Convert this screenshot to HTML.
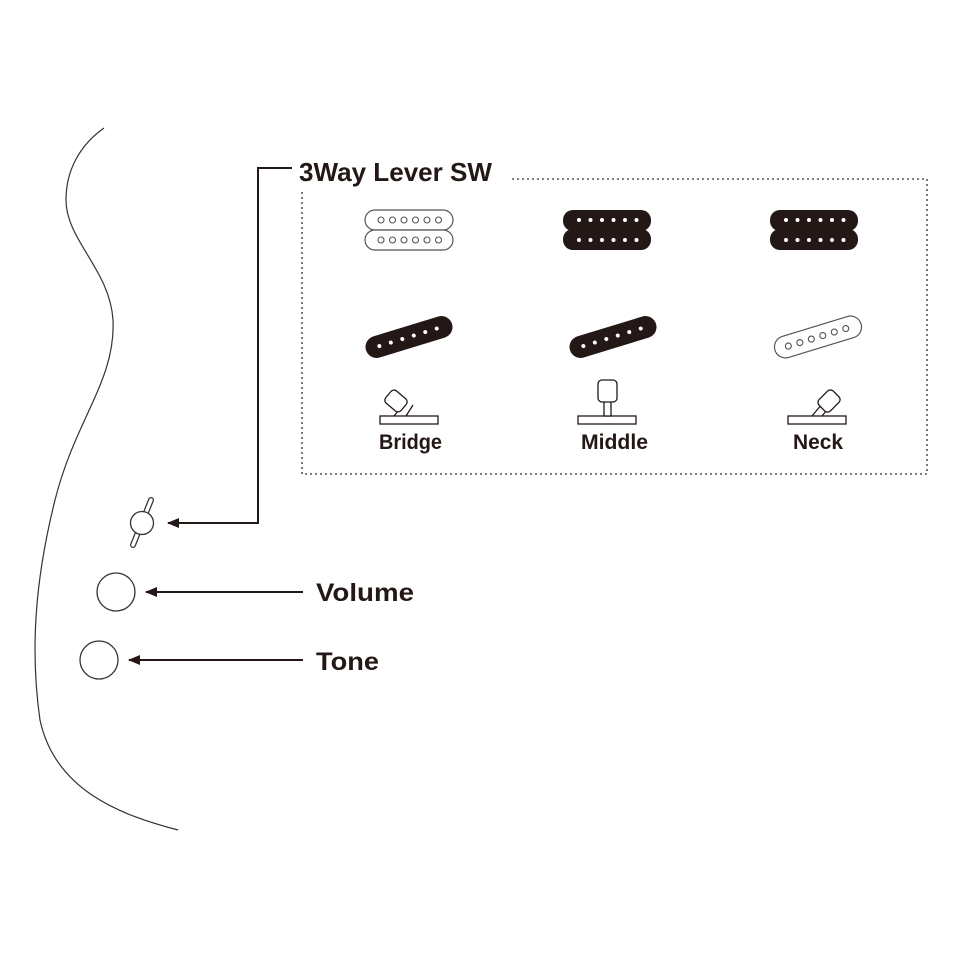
<!DOCTYPE html>
<html><head><meta charset="utf-8"><style>html,body{margin:0;padding:0;background:#fff}svg{display:block}</style></head>
<body>
<svg width="960" height="960" viewBox="0 0 960 960" xmlns="http://www.w3.org/2000/svg" font-family="Liberation Sans, sans-serif">
<defs>
<marker id="ar" markerWidth="12" markerHeight="10" refX="11" refY="5" orient="auto" markerUnits="userSpaceOnUse">
<path d="M0,0 L12,5 L0,10 Z" fill="#231815"/></marker>
<g id="hbW"><rect x="0" y="0" width="88" height="20" rx="10" fill="#fff" stroke="#555" stroke-width="1.2"/><rect x="0" y="20" width="88" height="20" rx="10" fill="#fff" stroke="#555" stroke-width="1.2"/>
<g fill="none" stroke="#555" stroke-width="1.1"><circle cx="16" cy="10" r="3"/><circle cx="27.5" cy="10" r="3"/><circle cx="39" cy="10" r="3"/><circle cx="50.5" cy="10" r="3"/><circle cx="62" cy="10" r="3"/><circle cx="73.5" cy="10" r="3"/>
<circle cx="16" cy="30" r="3"/><circle cx="27.5" cy="30" r="3"/><circle cx="39" cy="30" r="3"/><circle cx="50.5" cy="30" r="3"/><circle cx="62" cy="30" r="3"/><circle cx="73.5" cy="30" r="3"/></g></g>
<g id="hbB"><rect x="0" y="0" width="88" height="21" rx="10" fill="#231815"/><rect x="0" y="19" width="88" height="21" rx="10" fill="#231815"/>
<g fill="#fff"><circle cx="16" cy="10" r="2"/><circle cx="27.5" cy="10" r="2"/><circle cx="39" cy="10" r="2"/><circle cx="50.5" cy="10" r="2"/><circle cx="62" cy="10" r="2"/><circle cx="73.5" cy="10" r="2"/>
<circle cx="16" cy="30" r="2"/><circle cx="27.5" cy="30" r="2"/><circle cx="39" cy="30" r="2"/><circle cx="50.5" cy="30" r="2"/><circle cx="62" cy="30" r="2"/><circle cx="73.5" cy="30" r="2"/></g></g>
<g id="scB"><rect x="-45" y="-11" width="90" height="22" rx="11" fill="#231815"/>
<g fill="#fff"><circle cx="-31" cy="0" r="2"/><circle cx="-19" cy="0" r="2"/><circle cx="-7" cy="0" r="2"/><circle cx="5" cy="0" r="2"/><circle cx="17" cy="0" r="2"/><circle cx="29" cy="0" r="2"/></g></g>
<g id="scW"><rect x="-45" y="-11" width="90" height="22" rx="11" fill="#fff" stroke="#555" stroke-width="1.2"/>
<g fill="none" stroke="#555" stroke-width="1.1"><circle cx="-31" cy="0" r="3"/><circle cx="-19" cy="0" r="3"/><circle cx="-7" cy="0" r="3"/><circle cx="5" cy="0" r="3"/><circle cx="17" cy="0" r="3"/><circle cx="29" cy="0" r="3"/></g></g>
</defs>

<path d="M104,128 C80,145 66,170 66,200 C66,240 110,270 113,320 C116,380 75,420 55,500 C35,580 30,650 40,720 C55,790 120,815 178,830" fill="none" stroke="#333" stroke-width="1.2"/>

<line x1="151" y1="500" x2="133" y2="545" stroke="#333" stroke-width="6" stroke-linecap="round"/>
<line x1="151" y1="500" x2="133" y2="545" stroke="#fff" stroke-width="3.5" stroke-linecap="round"/>
<circle cx="142" cy="523" r="11.5" fill="#fff" stroke="#333" stroke-width="1.3"/>
<circle cx="116" cy="592" r="19" fill="#fff" stroke="#333" stroke-width="1.3"/>
<circle cx="99" cy="660" r="19" fill="#fff" stroke="#333" stroke-width="1.3"/>

<g stroke="#231815" stroke-width="2" fill="none">
<polyline points="292,168 258,168 258,523 168,523" marker-end="url(#ar)"/>
<line x1="303" y1="592" x2="146" y2="592" marker-end="url(#ar)"/>
<line x1="303" y1="660" x2="129" y2="660" marker-end="url(#ar)"/>
</g>

<rect x="302" y="179" width="625" height="295" fill="none" stroke="#333" stroke-width="1.3" stroke-dasharray="2,3"/>
<rect x="296" y="150" width="216" height="40" fill="#fff"/>
<g fill="#231815" font-weight="bold">
<text x="299" y="181" font-size="26" textLength="193" lengthAdjust="spacingAndGlyphs">3Way Lever SW</text>
<text x="316" y="601" font-size="25" textLength="98" lengthAdjust="spacingAndGlyphs">Volume</text>
<text x="316" y="670" font-size="25" textLength="63" lengthAdjust="spacingAndGlyphs">Tone</text>
<text x="379" y="449" font-size="21" textLength="63" lengthAdjust="spacingAndGlyphs">Bridge</text>
<text x="581" y="449" font-size="21" textLength="67" lengthAdjust="spacingAndGlyphs">Middle</text>
<text x="793" y="449" font-size="21" textLength="50" lengthAdjust="spacingAndGlyphs">Neck</text>
</g>

<use href="#hbW" x="365" y="210"/>
<use href="#hbB" x="563" y="210"/>
<use href="#hbB" x="770" y="210"/>
<use href="#scB" transform="translate(409,337) rotate(-17)"/>
<use href="#scB" transform="translate(613,337) rotate(-17)"/>
<use href="#scW" transform="translate(818,337) rotate(-17)"/>

<g fill="#fff" stroke="#231815" stroke-width="1.3">
<rect x="380" y="416" width="58" height="8"/>
<line x1="394" y1="416" x2="403" y2="405"/><line x1="406" y1="416" x2="413" y2="405"/>
<rect x="-10" y="-8" width="20" height="16" rx="4" transform="translate(396,401) rotate(40)"/>
<rect x="578" y="416" width="58" height="8"/>
<rect x="604" y="401" width="7" height="15"/>
<rect x="598" y="380" width="19" height="22" rx="4"/>
<rect x="788" y="416" width="58" height="8"/>
<line x1="812" y1="416" x2="822" y2="404"/><line x1="822" y1="416" x2="830" y2="406"/>
<rect x="-10" y="-8" width="20" height="16" rx="4" transform="translate(829,401) rotate(-45)"/>
</g>
</svg>
</body></html>
